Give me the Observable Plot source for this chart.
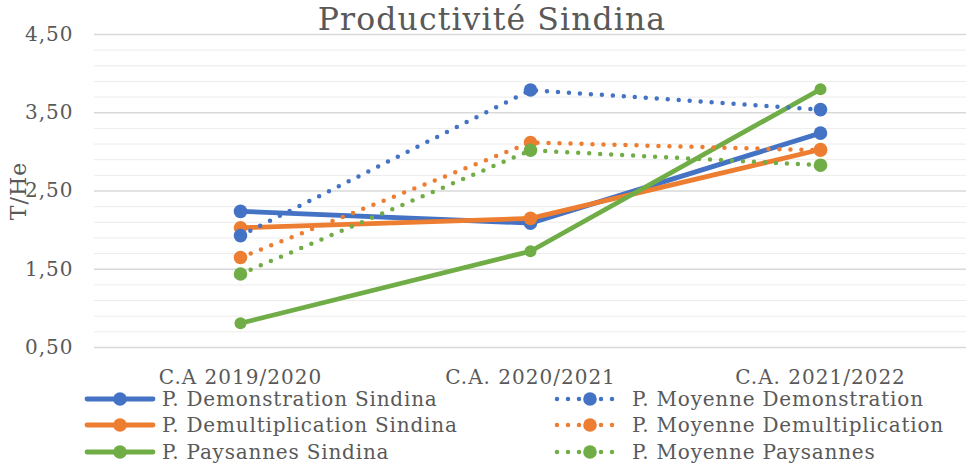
<!DOCTYPE html>
<html>
<head>
<meta charset="utf-8">
<script src="https://cdn.jsdelivr.net/npm/d3@7"></script>
<script src="https://cdn.jsdelivr.net/npm/@observablehq/plot@0.6"></script>
<style>
  body { margin: 0; background: #fff; }
  #wrap { position: relative; width: 974px; height: 465px; font-family: "DejaVu Serif", serif; color: #595959; overflow: hidden; }
  #title { position: absolute; left: 0; top: 1px; width: 984px; text-align: center; font-size: 31.5px; letter-spacing: 1.1px; color: #595959; z-index: 2; pointer-events: none; }
  #chart { position: absolute; left: 0; top: 0; }
  .lg { position: absolute; display: flex; align-items: center; font-size: 20px; letter-spacing: 0.8px; color: #595959; height: 20px; line-height: 20px; white-space: nowrap; }
  .lg span { line-height: 20px; }
  .lg svg { margin-right: 6px; }
</style>
</head>
<body>
<div id="wrap">
  <div id="chart"></div>
  <div id="title">Productivité Sindina</div>
  <div id="legend"></div>
</div>
<script>
// ---- Data ----
const categories = ["C.A 2019/2020", "C.A. 2020/2021", "C.A. 2021/2022"];
const seriesNames = [
  "P. Demonstration Sindina",
  "P. Demultiplication Sindina",
  "P. Paysannes Sindina",
  "P. Moyenne Demonstration",
  "P. Moyenne Demultiplication",
  "P. Moyenne Paysannes"
];
const demonstrationSindina    = [2.24, 2.09, 3.24];
const demultiplicationSindina = [2.03, 2.15, 3.03];
const paysannesSindina        = [0.81, 1.73, 3.80];
const moyenneDemonstration    = [1.93, 3.79, 3.54];
const moyenneDemultiplication = [1.65, 3.12, 3.02];
const moyennePaysannes        = [1.44, 3.02, 2.83];
const yTicks = [0.5, 1.5, 2.5, 3.5, 4.5];
const yMinorTicks = [0.7, 0.9, 1.1, 1.3, 1.7, 1.9, 2.1, 2.3, 2.7, 2.9, 3.1, 3.3, 3.7, 3.9, 4.1, 4.3];

// ---- Styling ----
const seriesValues = [demonstrationSindina, demultiplicationSindina, paysannesSindina,
                      moyenneDemonstration, moyenneDemultiplication, moyennePaysannes];
const colors = ["#4472C4", "#ED7D31", "#70AD47", "#4472C4", "#ED7D31", "#70AD47"];
const dotted = [false, false, false, true, true, true];

const rows = [];
seriesNames.forEach((name, i) => {
  seriesValues[i].forEach((v, j) => rows.push({series: name, cat: categories[j], value: v}));
});

const fmt = d => d.toFixed(2).replace(".", ",");

const marks = [
  Plot.ruleY(yMinorTicks, {stroke: "#ececec", strokeWidth: 1}),
  Plot.ruleY(yTicks, {stroke: "#d9d9d9", strokeWidth: 1.3}),
  Plot.axisY({ticks: yTicks, tickFormat: fmt, tickSize: 0, tickPadding: 21, fontSize: 20, label: null}),
  Plot.axisY({ticks: [], label: "T/He", labelAnchor: "center", labelOffset: 84, labelArrow: "none", fontSize: 22}),
  Plot.axisX({tickSize: 0, tickPadding: 22, fontSize: 20, label: null})
];
seriesNames.forEach((name, i) => {
  const d = rows.filter(r => r.series === name);
  marks.push(Plot.line(d, {
    x: "cat", y: "value", stroke: "series",
    strokeWidth: dotted[i] ? 4.5 : 4.8,
    strokeDasharray: dotted[i] ? "0 11" : null,
    strokeLinecap: "round"
  }));
  marks.push(Plot.dot(d, {x: "cat", y: "value", fill: "series", r: name === "P. Paysannes Sindina" ? 6 : 6.8}));
});

const chart = Plot.plot({
  width: 974,
  height: 390,
  marginTop: 34,
  marginBottom: 43,
  marginLeft: 94,
  marginRight: 8,
  style: {fontFamily: "DejaVu Serif, serif", fontSize: "20px", letterSpacing: "1px", color: "#595959", background: "transparent"},
  x: {type: "point", domain: categories, padding: 0.5},
  y: {domain: [0.5, 4.5]},
  color: {domain: seriesNames, range: colors},
  marks
});
document.getElementById("chart").appendChild(chart);

// ---- Legend ----
const legend = document.getElementById("legend");
const positions = [
  {left: 84, top: 389}, {left: 84, top: 415}, {left: 84, top: 442},
  {left: 554, top: 389}, {left: 554, top: 415}, {left: 554, top: 442}
];
seriesNames.forEach((name, i) => {
  const div = document.createElement("div");
  div.className = "lg";
  div.style.left = positions[i].left + "px";
  div.style.top = positions[i].top + "px";
  const c = colors[i];
  let sw;
  if (!dotted[i]) {
    sw = `<svg width="72" height="20"><line x1="3" x2="69" y1="10" y2="10" stroke="${c}" stroke-width="4.8" stroke-linecap="round"/><circle cx="36" cy="10" r="6.8" fill="${c}"/></svg>`;
  } else {
    sw = `<svg width="72" height="20"><line x1="3" x2="69" y1="10" y2="10" stroke="${c}" stroke-width="4.5" stroke-dasharray="0 11" stroke-linecap="round"/><circle cx="36" cy="10" r="6.8" fill="${c}"/></svg>`;
  }
  div.innerHTML = sw + `<span>${name}</span>`;
  legend.appendChild(div);
});
</script>
</body>
</html>
